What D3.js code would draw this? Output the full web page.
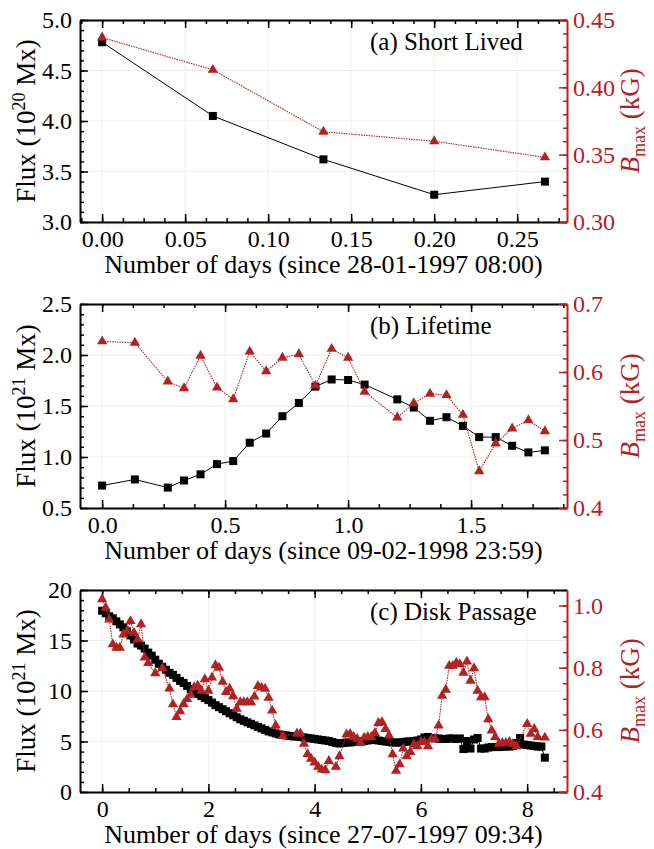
<!DOCTYPE html>
<html>
<head>
<meta charset="utf-8">
<script src="https://cdn.jsdelivr.net/npm/d3@7"></script>
<style>
  body { margin: 0; background: #fff; }
  svg text { font-family: "Liberation Serif", "Times New Roman", serif; }
</style>
</head>
<body>
<svg id="chart" width="654" height="849"></svg>
<script>
// Three stacked dual-axis panels: flux (black squares) and Bmax (red triangles)

// ---- panel (a) short lived ----
var daysA = [0, 0.0667, 0.1333, 0.2, 0.2667];
var fluxA = [4.78, 4.05, 3.62, 3.27, 3.40];
var bmaxA = [0.437, 0.413, 0.367, 0.360, 0.348];
var xTicksA = [0, 0.05, 0.10, 0.15, 0.20, 0.25];
var yTicksA = [3.0, 3.5, 4.0, 4.5, 5.0];
var rTicksA = [0.30, 0.35, 0.40, 0.45];

// ---- panel (b) lifetime ----
var daysB = [0, 0.133, 0.267, 0.333, 0.4, 0.467, 0.533, 0.6, 0.667, 0.733, 0.8, 0.867, 0.933,
  1.0, 1.067, 1.2, 1.267, 1.333, 1.4, 1.467, 1.533, 1.6, 1.667, 1.733, 1.8];
var fluxB = [0.72, 0.78, 0.70, 0.77, 0.83, 0.93, 0.96, 1.14, 1.23, 1.40, 1.53, 1.69, 1.76,
  1.755, 1.71, 1.565, 1.485, 1.355, 1.39, 1.305, 1.195, 1.195, 1.11, 1.045, 1.065];
var bmaxB = [0.645, 0.643, 0.586, 0.576, 0.624, 0.577, 0.560, 0.630, 0.601, 0.621, 0.626, 0.580, 0.634,
  0.621, 0.571, 0.533, 0.554, 0.568, 0.566, 0.537, 0.454, 0.495, 0.517, 0.529, 0.513];
var xTicksB = [0, 0.5, 1.0, 1.5];
var yTicksB = [0.5, 1.0, 1.5, 2.0, 2.5];
var rTicksB = [0.4, 0.5, 0.6, 0.7];

// ---- panel (c) disk passage ----
var daysC = [
  0, 0.067, 0.133, 0.2, 0.267, 0.333, 0.4, 0.467, 0.533, 0.6, 0.667, 0.733, 0.8, 0.867, 0.933,
  1.0, 1.067, 1.133, 1.2, 1.267, 1.333, 1.4, 1.467, 1.533, 1.6, 1.667, 1.733, 1.8, 1.867, 1.933,
  2.0, 2.067, 2.133, 2.2, 2.267, 2.333, 2.4, 2.467, 2.533, 2.6, 2.667, 2.733, 2.8, 2.867, 2.933,
  3.0, 3.067, 3.133, 3.2, 3.267, 3.333, 3.4, 3.467, 3.533, 3.6, 3.667, 3.733, 3.8, 3.867, 3.933,
  4.0, 4.067, 4.133, 4.2, 4.267, 4.333, 4.4, 4.467, 4.533, 4.6, 4.667, 4.733, 4.8, 4.867, 4.933,
  5.0, 5.067, 5.133, 5.2, 5.267, 5.333, 5.4, 5.467, 5.533, 5.6, 5.667, 5.733, 5.8, 5.867, 5.933,
  6.0, 6.067, 6.133, 6.2, 6.267, 6.333, 6.4, 6.467, 6.533, 6.6, 6.667, 6.733, 6.8, 6.867, 6.933,
  7.0, 7.067, 7.133, 7.2, 7.267, 7.333, 7.4, 7.467, 7.533, 7.6, 7.667, 7.733, 7.8, 7.867, 7.933,
  8.0, 8.067, 8.133, 8.2, 8.267, 8.333];
var fluxC = [
  17.95, 17.7, 17.4, 17.2, 16.9, 16.6, 16.3, 15.9, 15.5, 15.1, 14.7, 14.5, 14.2, 13.8, 13.5,
  13.1, 12.7, 12.4, 12.1, 11.8, 11.6, 11.3, 11.0, 10.8, 10.5, 10.2, 9.95, 9.7, 9.5, 9.3,
  9.1, 8.85, 8.6, 8.4, 8.2, 8.0, 7.8, 7.6, 7.4, 7.2, 7.05, 6.9, 6.75, 6.6, 6.45,
  6.3, 6.15, 6.0, 5.9, 5.8, 5.7, 5.65, 5.6, 5.55, 5.5, 5.5, 5.45, 5.4, 5.35, 5.3,
  5.25, 5.2, 5.15, 5.1, 5.05, 4.95, 4.85, 4.8, 4.85, 4.9, 4.9, 4.95, 5.0, 5.0, 5.05,
  5.1, 5.15, 5.15, 5.1, 5.05, 5.0, 4.95, 4.9, 4.9, 4.9, 4.95, 5.0, 5.0, 5.05, 5.1,
  5.2, 5.4, 5.45, 5.35, 5.3, 5.3, 5.25, 5.25, 5.3, 5.3, 5.25, 5.3, 4.25, 5.05, 4.3,
  5.2, 5.35, 4.3, 4.3, 4.4, 4.45, 4.45, 4.45, 4.5, 4.5, 4.5, 4.55, 4.85, 5.35, 4.7,
  4.65, 4.6, 4.55, 4.5, 4.5, 3.4];
var bmaxC = [
  1.02, 0.993, 0.955, 0.875, 0.864, 0.864, 0.907, 0.918, 0.95, 0.912, 0.891, 0.94, 0.833, 0.815, null,
  0.782, null, 0.798, null, 0.733, 0.682, 0.641, 0.66, 0.683, 0.699, 0.713, 0.737, 0.742, 0.726, 0.763,
  0.726, 0.768, 0.808, 0.80, 0.755, 0.722, 0.732, 0.708, 0.668, 0.689, 0.689, 0.689, 0.689, 0.707, 0.741,
  0.736, 0.732, 0.703, 0.662, 0.614, null, 0.58, null, null, null, 0.588, 0.588, 0.555, 0.522, 0.507,
  0.495, 0.481, 0.472, 0.47, 0.50, null, 0.481, 0.515, null, 0.585, 0.587, 0.577, 0.571, 0.558, 0.575,
  0.577, 0.577, 0.59, 0.622, 0.625, 0.603, 0.582, 0.521, 0.468, 0.489, 0.54, 0.515, 0.529, 0.553, 0.547,
  0.561, 0.561, 0.547, 0.571, 0.571, 0.614, 0.71, 0.729, 0.806, 0.806, 0.816, 0.811, 0.784, 0.82, 0.758,
  0.798, 0.726, 0.705, 0.705, 0.634, 0.598, 0.577, 0.555, 0.558, 0.558, 0.561, 0.555, 0.547, null, null,
  0.619, 0.587, 0.603, 0.577, null, 0.575];
var xTicksC = [0, 2, 4, 6, 8];
var yTicksC = [0, 5, 10, 15, 20];
var rTicksC = [0.4, 0.6, 0.8, 1.0];

var RED = '#b22222';
var GRID = '#ededed';
var LEFT = 80, RIGHT = 567;

var panels = [
  { top: 20, bottom: 222, days: daysA, flux: fluxA, bmax: bmaxA,
    xDom: [-0.01333, 0.28], xTicks: xTicksA, xMinor: 0.0125, xFmt: '.2f',
    yDom: [3, 5], yTicks: yTicksA, yMinor: 0.1, yFmt: '.1f',
    rDom: [0.30, 0.45], rTicks: rTicksA, rMinor: 0.01, rFmt: '.2f',
    exp: '20', note: '(a) Short Lived', since: '28-01-1997 08:00' },
  { top: 304, bottom: 508, days: daysB, flux: fluxB, bmax: bmaxB,
    xDom: [-0.09, 1.89], xTicks: xTicksB, xMinor: 0.125, xFmt: '.1f',
    yDom: [0.5, 2.5], yTicks: yTicksB, yMinor: 0.1, yFmt: '.1f',
    rDom: [0.4, 0.7], rTicks: rTicksB, rMinor: 0.02, rFmt: '.1f',
    exp: '21', note: '(b) Lifetime', since: '09-02-1998 23:59' },
  { top: 590, bottom: 792, days: daysC, flux: fluxC, bmax: bmaxC,
    xDom: [-0.4167, 8.75], xTicks: xTicksC, xMinor: 0.5, xFmt: 'd',
    yDom: [0, 20], yTicks: yTicksC, yMinor: 1, yFmt: 'd',
    rDom: [0.4, 1.05], rTicks: rTicksC, rMinor: 0.05, rFmt: '.1f',
    exp: '21', note: '(c) Disk Passage', since: '27-07-1997 09:34' }
];

var svg = d3.select('#chart');

function minorValues(dom, step) {
  var out = [];
  var start = Math.ceil(dom[0] / step - 1e-6);
  for (var k = start; k * step <= dom[1] + 1e-9; k++) out.push(+(k * step).toFixed(6));
  return out;
}

function styleAxis(g, color, width) {
  g.select('.domain').attr('stroke', color).attr('stroke-width', width);
  g.selectAll('.tick line').attr('stroke', color).attr('stroke-width', 1.5);
  g.selectAll('.tick text').attr('fill', color).attr('font-size', 24)
    .attr('font-family', '"Liberation Serif", serif');
}

function drawPanel(p) {
  var x = d3.scaleLinear().domain(p.xDom).range([LEFT, RIGHT]);
  var y = d3.scaleLinear().domain(p.yDom).range([p.bottom, p.top]);
  var yr = d3.scaleLinear().domain(p.rDom).range([p.bottom, p.top]);
  var g = svg.append('g');

  // faint grid
  g.selectAll('.gx').data(p.xTicks).join('line')
    .attr('x1', function (d) { return x(d); }).attr('x2', function (d) { return x(d); })
    .attr('y1', p.top).attr('y2', p.bottom)
    .attr('stroke', GRID).attr('stroke-width', 1);
  g.selectAll('.gy').data(p.yTicks).join('line')
    .attr('y1', function (d) { return y(d); }).attr('y2', function (d) { return y(d); })
    .attr('x1', LEFT).attr('x2', RIGHT)
    .attr('stroke', GRID).attr('stroke-width', 1);

  // minor ticks
  var xm = minorValues(p.xDom, p.xMinor);
  g.append('g').attr('transform', 'translate(0,' + p.bottom + ')')
    .call(d3.axisBottom(x).tickValues(xm).tickSize(-4).tickFormat('').tickSizeOuter(0))
    .call(function (a) { a.select('.domain').remove(); styleAxis(a, '#000', 2); });
  g.append('g').attr('transform', 'translate(0,' + p.top + ')')
    .call(d3.axisTop(x).tickValues(xm).tickSize(-4).tickFormat('').tickSizeOuter(0))
    .call(function (a) { a.select('.domain').remove(); styleAxis(a, '#000', 2); });
  g.append('g').attr('transform', 'translate(' + LEFT + ',0)')
    .call(d3.axisLeft(y).tickValues(minorValues(p.yDom, p.yMinor)).tickSize(-4).tickFormat('').tickSizeOuter(0))
    .call(function (a) { a.select('.domain').remove(); styleAxis(a, '#000', 2); });
  g.append('g').attr('transform', 'translate(' + RIGHT + ',0)')
    .call(d3.axisRight(yr).tickValues(minorValues(p.rDom, p.rMinor)).tickSize(-4).tickFormat('').tickSizeOuter(0))
    .call(function (a) { a.select('.domain').remove(); styleAxis(a, RED, 2); });

  // major axes
  g.append('g').attr('transform', 'translate(0,' + p.bottom + ')')
    .call(d3.axisBottom(x).tickValues(p.xTicks).tickSize(-8).tickSizeOuter(0)
      .tickPadding(8).tickFormat(d3.format(p.xFmt)))
    .call(function (a) { styleAxis(a, '#000', 2); });
  g.append('g').attr('transform', 'translate(0,' + p.top + ')')
    .call(d3.axisTop(x).tickValues(p.xTicks).tickSize(-8).tickSizeOuter(0).tickFormat(''))
    .call(function (a) { styleAxis(a, '#000', 2); });
  g.append('g').attr('transform', 'translate(' + LEFT + ',0)')
    .call(d3.axisLeft(y).tickValues(p.yTicks).tickSize(-8).tickSizeOuter(0)
      .tickPadding(8).tickFormat(d3.format(p.yFmt)))
    .call(function (a) { styleAxis(a, '#000', 2); });
  g.append('g').attr('transform', 'translate(' + RIGHT + ',0)')
    .call(d3.axisRight(yr).tickValues(p.rTicks).tickSize(-8).tickSizeOuter(0)
      .tickPadding(6).tickFormat(d3.format(p.rFmt)))
    .call(function (a) { styleAxis(a, RED, 2); });

  // flux series
  var fl = p.days.map(function (d, i) { return [d, p.flux[i]]; })
    .filter(function (d) { return d[1] != null; });
  var lineF = d3.line().x(function (d) { return x(d[0]); }).y(function (d) { return y(d[1]); });
  g.append('path').datum(fl).attr('d', lineF)
    .attr('fill', 'none').attr('stroke', '#000').attr('stroke-width', 1);
  g.selectAll('.sq').data(fl).join('rect')
    .attr('x', function (d) { return x(d[0]) - 4; })
    .attr('y', function (d) { return y(d[1]) - 4; })
    .attr('width', 8).attr('height', 8).attr('fill', '#000');

  // Bmax series
  var bm = p.days.map(function (d, i) { return [d, p.bmax[i]]; })
    .filter(function (d) { return d[1] != null; });
  var lineB = d3.line().x(function (d) { return x(d[0]); }).y(function (d) { return yr(d[1]); });
  g.append('path').datum(bm).attr('d', lineB)
    .attr('fill', 'none').attr('stroke', RED).attr('stroke-width', 1.1)
    .attr('stroke-dasharray', '1.5,1');
  var tri = d3.symbol().type(d3.symbolTriangle).size(46);
  g.selectAll('.tr').data(bm).join('path')
    .attr('d', tri)
    .attr('transform', function (d) { return 'translate(' + x(d[0]) + ',' + yr(d[1]) + ')'; })
    .attr('fill', RED);

  // annotation
  g.append('text').attr('x', 370).attr('y', p.top + 30)
    .attr('font-size', 25).attr('fill', '#000').text(p.note);

  // x title
  g.append('text').attr('x', (LEFT + RIGHT) / 2).attr('y', p.bottom + 51)
    .attr('text-anchor', 'middle').attr('font-size', 26).attr('fill', '#000')
    .text('Number of days (since ' + p.since + ')');

  // left title
  var mid = (p.top + p.bottom) / 2;
  var lt = g.append('text')
    .attr('transform', 'translate(35,' + mid + ') rotate(-90)')
    .attr('text-anchor', 'middle').attr('font-size', 27).attr('fill', '#000');
  lt.append('tspan').text('Flux (10');
  lt.append('tspan').attr('font-size', 18).attr('dy', -10).text(p.exp);
  lt.append('tspan').attr('dy', 10).text(' Mx)');

  // right title
  var rt = g.append('text')
    .attr('transform', 'translate(639,' + mid + ') rotate(-90)')
    .attr('text-anchor', 'middle').attr('font-size', 27).attr('fill', RED);
  rt.append('tspan').attr('font-style', 'italic').text('B');
  rt.append('tspan').attr('font-size', 18).attr('dy', 6).text('max');
  rt.append('tspan').attr('dy', -6).text(' (kG)');
}

panels.forEach(drawPanel);
</script>
</body>
</html>
